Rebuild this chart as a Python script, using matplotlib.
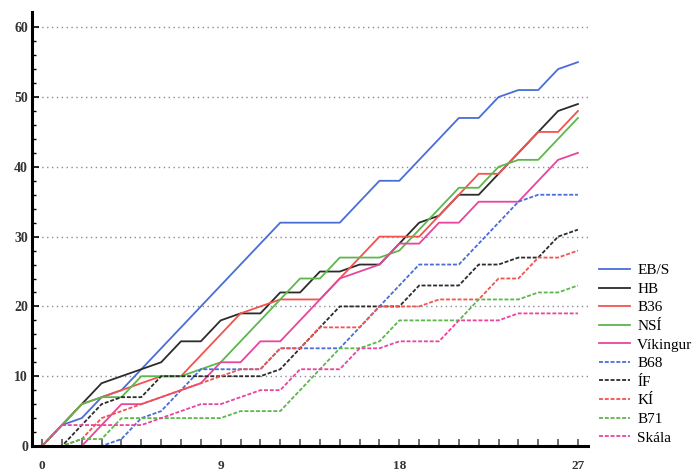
import numpy as np
import matplotlib
matplotlib.use("Agg")
import matplotlib.pyplot as plt

rounds = list(range(28))

# cumulative points per round
eb_s     = [0, 3, 4, 7, 8, 11, 14, 17, 20, 23, 26, 29, 32, 32, 32, 32, 35, 38, 38, 41, 44, 47, 47, 50, 51, 51, 54, 55]
hb       = [0, 3, 6, 9, 10, 11, 12, 15, 15, 18, 19, 19, 22, 22, 25, 25, 26, 26, 29, 32, 33, 36, 36, 39, 42, 45, 48, 49]
b36      = [0, 3, 6, 7, 8, 9, 10, 10, 13, 16, 19, 20, 21, 21, 21, 24, 27, 30, 30, 30, 33, 36, 39, 39, 42, 45, 45, 48]
nsi      = [0, 3, 6, 7, 7, 10, 10, 10, 11, 12, 15, 18, 21, 24, 24, 27, 27, 27, 28, 31, 34, 37, 37, 40, 41, 41, 44, 47]
vikingur = [0, 0, 0, 3, 6, 6, 7, 8, 9, 12, 12, 15, 15, 18, 21, 24, 25, 26, 29, 29, 32, 32, 35, 35, 35, 38, 41, 42]
b68      = [0, 0, 0, 0, 1, 4, 5, 8, 11, 11, 11, 11, 14, 14, 14, 14, 17, 20, 23, 26, 26, 26, 29, 32, 35, 36, 36, 36]
if_      = [0, 0, 3, 6, 7, 7, 10, 10, 10, 10, 10, 10, 11, 14, 17, 20, 20, 20, 20, 23, 23, 23, 26, 26, 27, 27, 30, 31]
ki       = [0, 0, 1, 4, 5, 6, 7, 8, 9, 10, 11, 11, 14, 14, 17, 17, 17, 20, 20, 20, 21, 21, 21, 24, 24, 27, 27, 28]
b71      = [0, 0, 1, 1, 4, 4, 4, 4, 4, 4, 5, 5, 5, 8, 11, 14, 14, 15, 18, 18, 18, 18, 21, 21, 21, 22, 22, 23]
skala    = [0, 3, 3, 3, 3, 3, 4, 5, 6, 6, 7, 8, 8, 11, 11, 11, 14, 14, 15, 15, 15, 18, 18, 18, 19, 19, 19, 19]

teams = ["EB/S", "HB", "B36", "NSÍ", "Víkingur", "B68", "ÍF", "KÍ", "B71", "Skála"]
series = [eb_s, hb, b36, nsi, vikingur, b68, if_, ki, b71, skala]
colors = ["#4a6ed6", "#2b2b2b", "#f2534f", "#5cb84a", "#e8459c",
          "#4a6ed6", "#2b2b2b", "#f2534f", "#5cb84a", "#e8459c"]
dashed = (0, (2.2, 1.0))
styles = ["-"] * 5 + [dashed] * 5

plt.rcParams['font.family'] = ['Liberation Serif', 'DejaVu Serif']

fig = plt.figure(figsize=(6.99, 4.75), dpi=100)
ax = fig.add_axes([0.046, 0.061, 0.795, 0.914])

for s, c, ls, name in zip(series, colors, styles, teams):
    ax.plot(rounds, s, color=c, linestyle=ls, linewidth=1.3, label=name)

ax.set_xlim(-0.5, 27.5)
ax.set_ylim(0, 62.2)

# dotted horizontal grid
for v in range(10, 61, 10):
    ax.axhline(v, color="#8a8a9a", linestyle=(0, (1, 2.5)), linewidth=1.0, zorder=0)

ax.set_xticks(rounds)
ax.set_xticklabels([str(r) if r % 9 == 0 else "" for r in rounds])
ax.set_yticks(range(0, 61, 10))
ax.set_yticks(range(0, 62, 2), minor=True)

ax.tick_params(axis="x", direction="in", length=5, width=1.2, color="#555555",
               labelsize=9.5, pad=10)
ax.tick_params(axis="y", which="major", direction="in", length=5, width=1.2,
               labelsize=10, pad=3)
ax.tick_params(axis="y", which="minor", direction="in", length=3, width=1.0)
for lab in ax.get_xticklabels() + ax.get_yticklabels():
    lab.set_fontweight("bold")
    lab.set_color("#333333")

for side in ["top", "right"]:
    ax.spines[side].set_visible(False)
ax.spines["left"].set_linewidth(2.2)
ax.spines["bottom"].set_linewidth(2.2)

fig.legend(loc="upper left", bbox_to_anchor=(0.857, 0.445), frameon=False,
           fontsize=11, handlelength=2.0, handletextpad=0.5, labelspacing=0.32,
           borderaxespad=0, borderpad=0)

fig.savefig("out.png", dpi=100)
